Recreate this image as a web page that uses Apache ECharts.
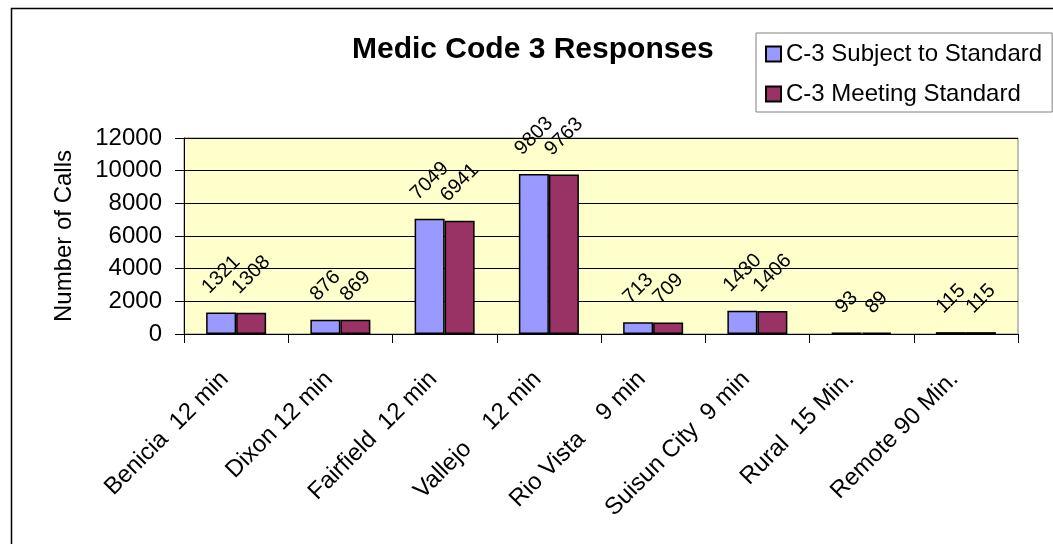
<!DOCTYPE html>
<html>
<head>
<meta charset="utf-8">
<style>
  html, body { margin: 0; padding: 0; background: #fff; }
  #main { width: 1053px; height: 544px; }
</style>
<script src="https://cdn.jsdelivr.net/npm/echarts@6/dist/echarts.min.js"></script>
</head>
<body>
<div id="main"></div>
<script>
var categories = ['Benicia  12 min', 'Dixon 12 min', 'Fairfield  12 min', 'Vallejo    12 min',
  'Rio Vista    9 min', 'Suisun City  9 min', 'Rural  15 Min.', 'Remote 90 Min.'];
var subjectToStandard = [1321, 876, 7049, 9803, 713, 1430, 93, 115];
var meetingStandard = [1308, 869, 6941, 9763, 709, 1406, 89, 115];
var seriesNames = ['C-3 Subject to Standard', 'C-3 Meeting Standard'];

var font = 'Liberation Sans, Arial, sans-serif';
var chart = echarts.init(document.getElementById('main'), null, { renderer: 'canvas' });

// excel style: rotated label centred above its bar
function placeLabel(params) {
  var r = params.rect, lr = params.labelRect;
  return {
    x: r.x + r.width / 2,
    y: r.y - 15 - lr.height / 2,
    align: 'center',
    verticalAlign: 'middle'
  };
}

var barLabel = {
  show: true,
  position: 'top',
  rotate: 45,
  fontSize: 20,
  fontFamily: font,
  color: '#000'
};

var option = {
  backgroundColor: '#ffffff',
  animation: false,
  color: ['#9999FF', '#993366'],
  textStyle: { fontFamily: font },
  graphic: [{
    type: 'rect',
    shape: { x: 11.5, y: 8.5, width: 1100, height: 600 },
    style: { fill: 'none', stroke: '#000', lineWidth: 1.5 },
    silent: true
  }],
  title: {
    text: 'Medic Code 3 Responses',
    left: 352,
    top: 35,
    padding: 0,
    textStyle: { fontSize: 30, fontWeight: 'bold', color: '#000', fontFamily: font }
  },
  legend: {
    data: seriesNames,
    orient: 'vertical',
    left: 756,
    top: 33,
    padding: [9, 10, 6, 9],
    backgroundColor: '#fff',
    borderColor: '#808080',
    borderWidth: 1,
    itemWidth: 15,
    itemHeight: 15,
    itemGap: 16,
    icon: 'rect',
    textStyle: { fontSize: 24, color: '#000', fontFamily: font, lineHeight: 24 }
  },
  grid: {
    left: 184,
    right: 35,
    top: 138,
    bottom: 210,
    show: true,
    backgroundColor: '#FFFFCC',
    borderColor: '#808080',
    borderWidth: 1
  },
  xAxis: {
    type: 'category',
    data: categories,
    axisLine: { lineStyle: { color: '#000', width: 1 } },
    axisTick: { show: true, length: 9, lineStyle: { color: '#000' } },
    axisLabel: {
      rotate: 45, fontSize: 24, color: '#000', margin: 30, interval: 0,
      fontFamily: font, padding: [0, 16, 0, 0]
    },
    splitLine: { show: false }
  },
  yAxis: {
    type: 'value',
    min: 0,
    max: 12000,
    interval: 2000,
    name: 'Number of Calls',
    nameLocation: 'middle',
    nameRotate: 90,
    nameGap: 108,
    nameTextStyle: { fontSize: 24, color: '#000', fontFamily: font },
    axisLine: { show: true, lineStyle: { color: '#000', width: 1 } },
    axisTick: { show: true, length: 9, lineStyle: { color: '#000' } },
    axisLabel: {
      fontSize: 24, color: '#000', margin: 22, fontFamily: font,
      formatter: function (v) { return String(v); }
    },
    splitLine: { show: true, lineStyle: { color: '#000', width: 1 } }
  },
  series: [{
    name: seriesNames[0],
    type: 'bar',
    data: subjectToStandard,
    barWidth: 30,
    barGap: '0%',
    itemStyle: { borderColor: '#000', borderWidth: 1.5 },
    label: barLabel,
    labelLayout: placeLabel
  }, {
    name: seriesNames[1],
    type: 'bar',
    data: meetingStandard,
    barWidth: 30,
    barGap: '0%',
    itemStyle: { borderColor: '#000', borderWidth: 1.5 },
    label: barLabel,
    labelLayout: placeLabel
  }]
};

chart.setOption(option);
</script>
</body>
</html>
